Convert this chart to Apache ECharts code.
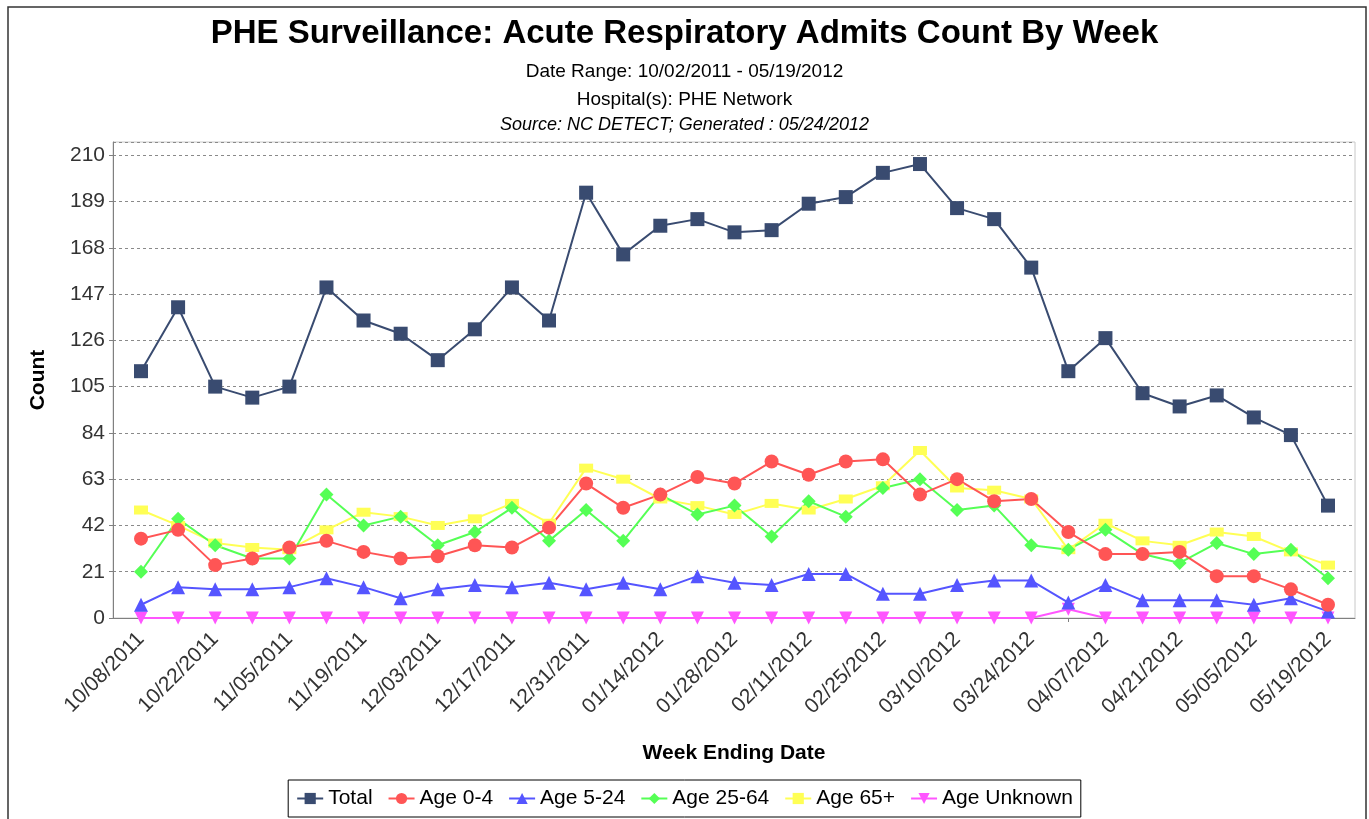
<!DOCTYPE html>
<html>
<head>
<meta charset="utf-8">
<script src="https://cdn.jsdelivr.net/npm/echarts@6/dist/echarts.min.js"></script>
<style>
html,body{margin:0;padding:0;background:#fff;}
#chart{width:1369px;height:819px;}
</style>
</head>
<body>
<div id="chart"></div>
<script>
const weeks = ["10/08/2011","10/15/2011","10/22/2011","10/29/2011","11/05/2011","11/12/2011","11/19/2011","11/26/2011","12/03/2011","12/10/2011","12/17/2011","12/24/2011","12/31/2011","01/07/2012","01/14/2012","01/21/2012","01/28/2012","02/04/2012","02/11/2012","02/18/2012","02/25/2012","03/03/2012","03/10/2012","03/17/2012","03/24/2012","03/31/2012","04/07/2012","04/14/2012","04/21/2012","04/28/2012","05/05/2012","05/12/2012","05/19/2012"];
const total = [112,141,105,100,105,150,135,129,117,131,150,135,193,165,178,181,175,176,188,191,202,206,186,181,159,112,127,102,96,101,91,83,51];
const age0_4 = [36,40,24,27,32,35,30,27,28,33,32,41,61,50,56,64,61,71,65,71,72,56,63,53,54,39,29,29,30,19,19,13,6];
const age5_24 = [6,14,13,13,14,18,14,9,13,15,14,16,13,16,13,19,16,15,20,20,11,11,15,17,17,7,15,8,8,8,6,9,3];
const age25_64 = [21,45,33,27,27,56,42,46,33,39,50,35,49,35,56,47,51,37,53,46,59,63,49,51,33,31,40,29,25,34,29,31,18];
const age65 = [49,42,34,32,31,40,48,46,42,45,52,43,68,63,54,51,47,52,49,54,60,76,59,58,54,31,43,35,33,39,37,30,24];
const ageUnknown = [0,0,0,0,0,0,0,0,0,0,0,0,0,0,0,0,0,0,0,0,0,0,0,0,0,4,0,0,0,0,0,0,0];
const yTicksInterval = 21;

const FONT = '"Liberation Sans", Arial, sans-serif';
const chart = echarts.init(document.getElementById('chart'), null, {renderer:'canvas'});

function mk(name, data, color, symbol, size, rotate) {
  return {
    name: name, type: 'line', data: data, xAxisIndex: 1, yAxisIndex: 1,
    symbol: symbol, symbolSize: size, symbolRotate: rotate || 0,
    showAllSymbol: true, animation: false,
    lineStyle: {color: color, width: 2},
    itemStyle: {color: color}
  };
}

const option = {
  backgroundColor: '#fff',
  animation: false,
  title: [
    {text: 'PHE Surveillance: Acute Respiratory Admits Count By Week', left: 'center', top: 12,
     textStyle: {fontFamily: FONT, fontSize: 33, fontWeight: 'bold', color: '#000'}},
    {text: 'Date Range: 10/02/2011 - 05/19/2012', left: 'center', top: 57,
     textStyle: {fontFamily: FONT, fontSize: 19, fontWeight: 'normal', color: '#000'}},
    {text: 'Hospital(s): PHE Network', left: 'center', top: 85,
     textStyle: {fontFamily: FONT, fontSize: 19, fontWeight: 'normal', color: '#000'}},
    {text: 'Source: NC DETECT; Generated : 05/24/2012', left: 'center', top: 111,
     textStyle: {fontFamily: FONT, fontSize: 18, fontWeight: 'normal', fontStyle: 'italic', color: '#000'}}
  ],
  legend: {
    left: 'center', top: 780,
    data: ['Total','Age 0-4','Age 5-24','Age 25-64','Age 65+','Age Unknown'],
    itemWidth: 26, itemHeight: 14, itemGap: 15,
    borderColor: '#000', borderWidth: 1, padding: [8, 8],
    textStyle: {fontFamily: FONT, fontSize: 21, color: '#000'}
  },
  grid: [
    {left: 113, right: 14, top: 142, bottom: 201, show: true, borderColor: '#c8c8c8', borderWidth: 1, backgroundColor: '#fff'},
    {left: 141, right: 41, top: 142, bottom: 201}
  ],
  xAxis: [
    {gridIndex: 0, type: 'value', min: 0, max: 1,
     axisLine: {show: true, lineStyle: {color: '#808080'}},
     axisTick: {show: false}, axisLabel: {show: false}, splitLine: {show: false},
     name: 'Week Ending Date', nameLocation: 'middle', nameGap: 125,
     nameTextStyle: {fontFamily: FONT, fontSize: 21, fontWeight: 'bold', color: '#000'}},
    {gridIndex: 1, type: 'category', data: weeks, boundaryGap: false,
     axisLine: {show: false},
     axisTick: {show: true, interval: 0, length: 4, lineStyle: {color: '#808080'}},
     axisLabel: {interval: 1, rotate: 45, fontFamily: FONT, fontSize: 21, color: '#333', margin: 18},
     splitLine: {show: false}}
  ],
  yAxis: [
    {gridIndex: 0, type: 'value', min: 0, max: 216, interval: yTicksInterval,
     axisLine: {show: true, lineStyle: {color: '#808080'}},
     axisTick: {show: true, length: 4, lineStyle: {color: '#808080'}},
     axisLabel: {showMaxLabel: false, fontFamily: FONT, fontSize: 21, color: '#333', margin: 8},
     splitLine: {show: true, lineStyle: {color: '#8a8a8a', type: [3, 3], width: 1}},
     name: 'Count', nameLocation: 'middle', nameGap: 64, nameRotate: 90,
     nameTextStyle: {fontFamily: FONT, fontSize: 21, fontWeight: 'bold', color: '#000'}},
    {gridIndex: 1, type: 'value', min: 0, max: 216, interval: yTicksInterval, show: false,
     splitLine: {show: false}}
  ],
  series: [
    mk('Age Unknown', ageUnknown, '#ff55ff', 'triangle', 13, 180),
    mk('Age 65+', age65, '#ffff55', 'rect', [14, 9]),
    mk('Age 25-64', age25_64, '#55ff55', 'diamond', 14),
    mk('Age 5-24', age5_24, '#5555ff', 'triangle', 14),
    mk('Age 0-4', age0_4, '#ff5555', 'circle', 14),
    mk('Total', total, '#394b70', 'rect', 14)
  ],
  graphic: [
    {type: 'rect', shape: {x: 8, y: 7, width: 1358, height: 830}, silent: true, z: -10,
     style: {fill: 'none', stroke: '#333', lineWidth: 1.5}}
  ]
};
chart.setOption(option);
</script>
</body>
</html>
